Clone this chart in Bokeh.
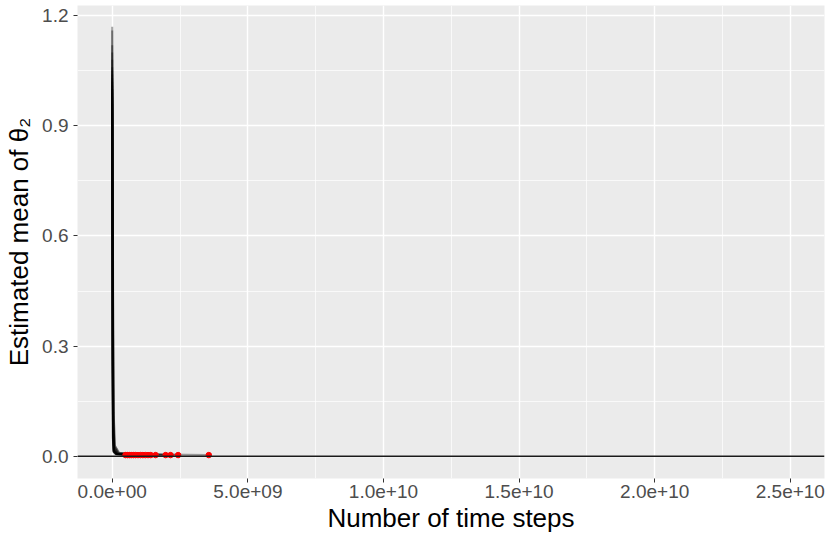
from bokeh.plotting import figure
from bokeh.models import FixedTicker, Span, CustomJSTickFormatter, Range1d
from bokeh.embed import file_html
from bokeh.resources import INLINE

# ---- data ----
# trajectories of the estimated mean: x = time steps, y = estimate
traj_x = [
    [0, 0.5e7, 1.5e7, 3.0e7, 6.0e7, 1.5e8, 0.49e9],
    [0, 0.8e7, 2.0e7, 4.0e7, 7.0e7, 1.8e8, 0.56e9],
    [0, 0.5e7, 1.2e7, 2.5e7, 5.0e7, 1.4e8, 0.63e9],
    [0, 1.0e7, 2.5e7, 4.5e7, 8.0e7, 2.2e8, 0.70e9],
    [0, 0.5e7, 1.5e7, 3.5e7, 6.0e7, 1.6e8, 0.78e9],
    [0, 0.6e7, 1.8e7, 3.2e7, 6.0e7, 1.7e8, 0.86e9],
    [0, 1.2e7, 3.0e7, 5.5e7, 9.0e7, 2.4e8, 0.95e9],
    [0, 0.5e7, 1.0e7, 2.2e7, 4.5e7, 1.3e8, 1.04e9],
    [0, 0.9e7, 2.2e7, 4.2e7, 7.5e7, 1.9e8, 1.13e9],
    [0, 0.5e7, 1.5e7, 3.0e7, 5.5e7, 1.5e8, 1.22e9],
    [0, 0.7e7, 1.9e7, 3.8e7, 7.0e7, 2.0e8, 1.32e9],
    [0, 1.5e7, 3.5e7, 6.0e7, 1.0e8, 2.6e8, 1.42e9],
    [0, 0.5e7, 1.4e7, 2.8e7, 5.5e7, 1.5e8, 1.60e9],
    [0, 0.8e7, 2.1e7, 4.0e7, 7.0e7, 1.8e8, 1.97e9],
    [0, 0.6e7, 1.6e7, 3.1e7, 6.0e7, 1.6e8, 2.15e9],
    [0, 1.1e7, 2.8e7, 5.0e7, 8.5e7, 2.2e8, 2.43e9],
    [0, 0.7e7, 1.8e7, 3.5e7, 6.5e7, 1.7e8, 3.56e9],
]
traj_y = [
    [1.17, 0.80, 0.30, 0.06, 0.015, 0.006, 0.003],
    [1.16, 0.85, 0.35, 0.08, 0.020, 0.007, 0.003],
    [1.12, 0.70, 0.25, 0.05, 0.012, 0.006, 0.003],
    [1.10, 0.90, 0.40, 0.10, 0.025, 0.008, 0.003],
    [1.08, 0.75, 0.28, 0.06, 0.015, 0.006, 0.003],
    [1.06, 0.72, 0.26, 0.05, 0.013, 0.006, 0.003],
    [1.05, 0.92, 0.45, 0.12, 0.030, 0.009, 0.003],
    [1.04, 0.70, 0.22, 0.05, 0.012, 0.005, 0.003],
    [1.03, 0.86, 0.38, 0.09, 0.022, 0.007, 0.003],
    [1.02, 0.74, 0.27, 0.06, 0.014, 0.006, 0.003],
    [1.01, 0.80, 0.33, 0.08, 0.018, 0.007, 0.003],
    [1.00, 0.88, 0.42, 0.11, 0.028, 0.009, 0.003],
    [1.00, 0.66, 0.24, 0.05, 0.012, 0.005, 0.003],
    [0.99, 0.78, 0.31, 0.07, 0.017, 0.006, 0.003],
    [0.98, 0.70, 0.25, 0.05, 0.013, 0.006, 0.003],
    [0.97, 0.84, 0.37, 0.09, 0.024, 0.008, 0.003],
    [0.96, 0.73, 0.28, 0.06, 0.015, 0.006, 0.003],
]
# end points (red)
end_x = [0.49e9, 0.56e9, 0.63e9, 0.70e9, 0.78e9, 0.86e9, 0.95e9, 1.04e9,
         1.13e9, 1.22e9, 1.32e9, 1.42e9, 1.60e9, 1.97e9, 2.15e9, 2.43e9, 3.56e9]
end_y = [0.003] * 17

x_ticks = [0, 5e9, 1e10, 1.5e10, 2e10, 2.5e10]
x_tick_labels = ["0.0e+00", "5.0e+09", "1.0e+10", "1.5e+10", "2.0e+10", "2.5e+10"]
x_minor = [2.5e9, 7.5e9, 1.25e10, 1.75e10, 2.25e10]
y_ticks = [0.0, 0.3, 0.6, 0.9, 1.2]
y_tick_labels = ["0.0", "0.3", "0.6", "0.9", "1.2"]
y_minor = [0.15, 0.45, 0.75, 1.05]

FONT = "Liberation Sans"

p = figure(width=830, height=541, output_backend="svg", toolbar_location=None,
           x_range=Range1d(-1.28e9, 2.626e10), y_range=Range1d(-0.0608, 1.228),
           min_border_left=77, min_border_right=6, min_border_top=5,
           min_border_bottom=63)

p.background_fill_color = "#EBEBEB"
p.border_fill_color = "white"
p.outline_line_color = None

for xs, ys in zip(traj_x, traj_y):
    p.line(xs, ys, line_color="black", line_alpha=0.35, line_width=2)

p.add_layout(Span(location=0, dimension="width", line_color="#1a1a1a", line_width=1.5))

p.scatter(end_x, end_y, size=5.5, color="red", line_color="red")

p.xaxis.ticker = FixedTicker(ticks=x_ticks, minor_ticks=x_minor)
p.yaxis.ticker = FixedTicker(ticks=y_ticks, minor_ticks=y_minor)
p.xaxis.formatter = CustomJSTickFormatter(args=dict(tvals=x_ticks, tlabels=x_tick_labels), code="""
    for (let i = 0; i < tvals.length; i++) { if (Math.abs(tvals[i] - tick) < 1) return tlabels[i]; }
    return "";
""")
p.yaxis.formatter = CustomJSTickFormatter(args=dict(tvals=y_ticks, tlabels=y_tick_labels), code="""
    for (let i = 0; i < tvals.length; i++) { if (Math.abs(tvals[i] - tick) < 1e-6) return tlabels[i]; }
    return "";
""")

for g in (p.xgrid, p.ygrid):
    g.grid_line_color = "white"
    g.grid_line_width = 1.4
    g.minor_grid_line_color = "white"
    g.minor_grid_line_width = 0.7

for ax in (p.xaxis, p.yaxis):
    ax.axis_line_color = None
    ax.major_tick_line_color = "#333333"
    ax.major_tick_line_width = 1
    ax.major_tick_in = 0
    ax.major_tick_out = 4
    ax.minor_tick_line_color = None
    ax.major_label_text_font = FONT
    ax.major_label_text_font_size = "19px"
    ax.major_label_text_color = "#4D4D4D"
    ax.axis_label_text_font = FONT
    ax.axis_label_text_font_size = "26px"
    ax.axis_label_text_font_style = "normal"
    ax.axis_label_text_color = "black"

p.xaxis.axis_label = "Number of time steps"
p.yaxis.axis_label = "Estimated mean of θ₂"
p.xaxis.major_label_standoff = 2
p.xaxis.axis_label_standoff = 2
p.yaxis.major_label_standoff = 5
p.yaxis.axis_label_standoff = 5

open("out.html", "w").write(file_html(p, INLINE))
